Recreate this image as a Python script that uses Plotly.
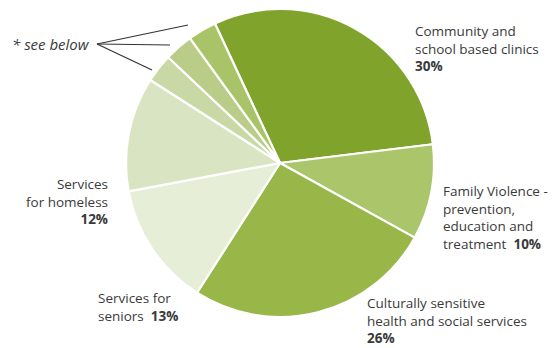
import plotly.graph_objects as go

# Share of funding by service area (percent)
categories = [
    "Community and school based clinics",
    "Family Violence - prevention, education and treatment",
    "Culturally sensitive health and social services",
    "Services for seniors",
    "Services for homeless",
    "Other services (a)",
    "Other services (b)",
    "Other services (c)",
]
shares = [30, 10, 26, 13, 12, 3, 3, 3]
slice_colors = [
    "#80a32c", "#abc56b", "#98b748", "#e7eed8",
    "#d9e5c2", "#c9d9a5", "#b9cd89", "#a9c468",
]

W, H = 557, 348
cx, cy, r = 280, 163, 154  # pie centre and radius in pixels

fig = go.Figure(go.Pie(
    labels=categories,
    values=shares,
    sort=False,
    direction="clockwise",
    rotation=-25,
    marker=dict(colors=slice_colors, line=dict(color="white", width=2.2)),
    textinfo="none",
    hoverinfo="label+percent",
    domain=dict(x=[(cx - r) / W, (cx + r) / W],
                y=[(H - cy - r) / H, (H - cy + r) / H]),
    showlegend=False,
))

TXT = "#3a3a3a"
FONT = dict(family="Open Sans, Noto Sans, sans-serif", size=13.5, color=TXT)


def label_block(lines, x, y_mid, xanchor="left", align="left"):
    """Multi-line slice label; y_mid is the vertical centre of the block."""
    fig.add_annotation(
        text="<br>".join(lines), x=x / W, y=1 - y_mid / H,
        xref="paper", yref="paper", xanchor=xanchor, yanchor="middle",
        align=align, showarrow=False, borderpad=0, font=FONT,
    )


label_block(["Community and", "school based clinics", f"<b>{shares[0]}%</b>"],
            414, 49)
label_block(["Family Violence -", "prevention,", "education and",
             f"treatment  <b>{shares[1]}%</b>"],
            442, 217)
label_block(["Culturally sensitive", "health and social services",
             f"<b>{shares[2]}%</b>"],
            366, 320)
label_block(["Services for", f"seniors  <b>{shares[3]}%</b>"], 97, 307)
label_block(["Services", "for homeless", f"<b>{shares[4]}%</b>"],
            109, 201, xanchor="right", align="right")

fig.add_annotation(
    text="<i>* see below</i>", x=91 / W, y=1 - 44 / H, xref="paper", yref="paper",
    xanchor="right", yanchor="middle", showarrow=False, borderpad=0,
    font=dict(family=FONT["family"], size=15, color=TXT),
)

# Leader lines from the "see below" note to the three small slices
apex = (97, 44)
for ex, ey in [(188, 25), (170, 45), (152, 70)]:
    fig.add_shape(
        type="line", xref="paper", yref="paper",
        x0=apex[0] / W, y0=1 - apex[1] / H, x1=ex / W, y1=1 - ey / H,
        line=dict(color="#333333", width=1.2),
    )

fig.update_layout(
    width=W, height=H,
    margin=dict(l=0, r=0, t=0, b=0),
    paper_bgcolor="white", plot_bgcolor="white",
)

fig.write_html("out.html")
